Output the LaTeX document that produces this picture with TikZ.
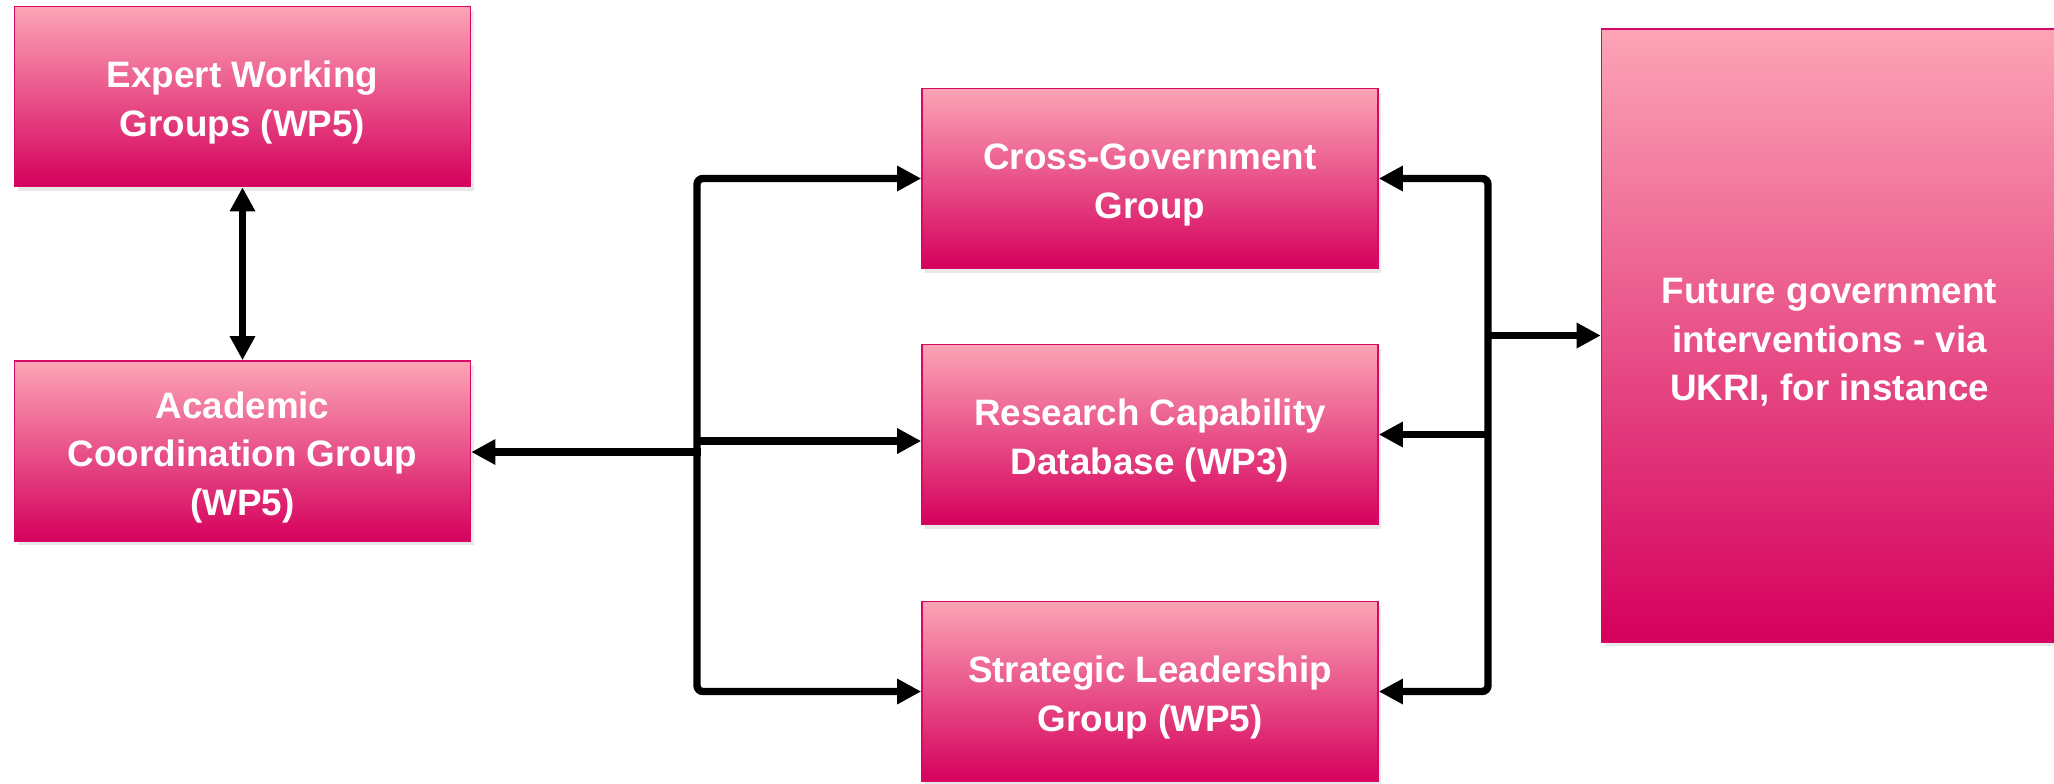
\documentclass[tikz,border=0pt]{standalone}
\usepackage{fontspec}
\setmainfont{Liberation Sans}
\usetikzlibrary{arrows.meta,shadows}
\definecolor{boxtop}{RGB}{252,164,182}
\definecolor{boxbot}{RGB}{213,0,92}
\definecolor{boxline}{RGB}{214,10,100}
\newcommand{\lowstrut}{\rule{0pt}{19.5pt}}
\begin{document}
\begin{tikzpicture}[x=0.5pt,y=-0.5pt,
  box/.style={draw=boxline, line width=0.8pt, top color=boxtop, bottom color=boxbot,
    text=white, font=\bfseries\fontsize{18.4}{24.3}\selectfont, align=center,
    minimum width=228pt, minimum height=90pt, inner sep=0pt,
    drop shadow={opacity=0.18, shadow xshift=1.5pt, shadow yshift=-2pt}},
  tip/.tip={Triangle[length=12pt,width=12pt]},
  conn/.style={line width=3.7pt, -tip},
  dconn/.style={line width=3.7pt, tip-tip, rounded corners=3pt},
  ]
\useasboundingbox (0,0) rectangle (2054,783);
\node[box] (ewg) at (242.5,96.5) {\lowstrut Expert Working\\Groups (WP5)};
\node[box] (acg) at (242.5,451) {\lowstrut Academic\\Coordination Group\\(WP5)};
\node[box] (cg) at (1150,178.5) {\lowstrut Cross-Government\\Group};
\node[box] (rs) at (1150,434.5) {\lowstrut Research Capability\\Database (WP3)};
\node[box] (slg) at (1150,691.5) {\lowstrut Strategic Leadership\\Group (WP5)};
\node[box, minimum height=306.5pt] (fut) at (1829.5,335.5) {\lowstrut Future government\\interventions - via\\UKRI, for instance};

\coordinate (lt) at (697,178.5);
\coordinate (lb) at (697,691.5);
\coordinate (lm) at (697,441);
\coordinate (la) at (701,452);
\coordinate (rt) at (1488,178.5);
\coordinate (rb) at (1488,691.5);
\coordinate (rm) at (1488,434.5);
\coordinate (rf) at (1488,335.5);

\draw[dconn] (ewg.south) -- (acg.north);
\draw[dconn] (cg.west) -- (lt) -- (lb) -- (slg.west);
\draw[conn] (lm) -- (lm -| rs.west);
\draw[conn, line width=4.4pt] (la) -- (la -| acg.east);
\draw[dconn] (cg.east) -- (rt) -- (rb) -- (slg.east);
\draw[conn] (rm) -- (rs.east);
\draw[conn] (rf) -- (fut.west);
\end{tikzpicture}
\end{document}
